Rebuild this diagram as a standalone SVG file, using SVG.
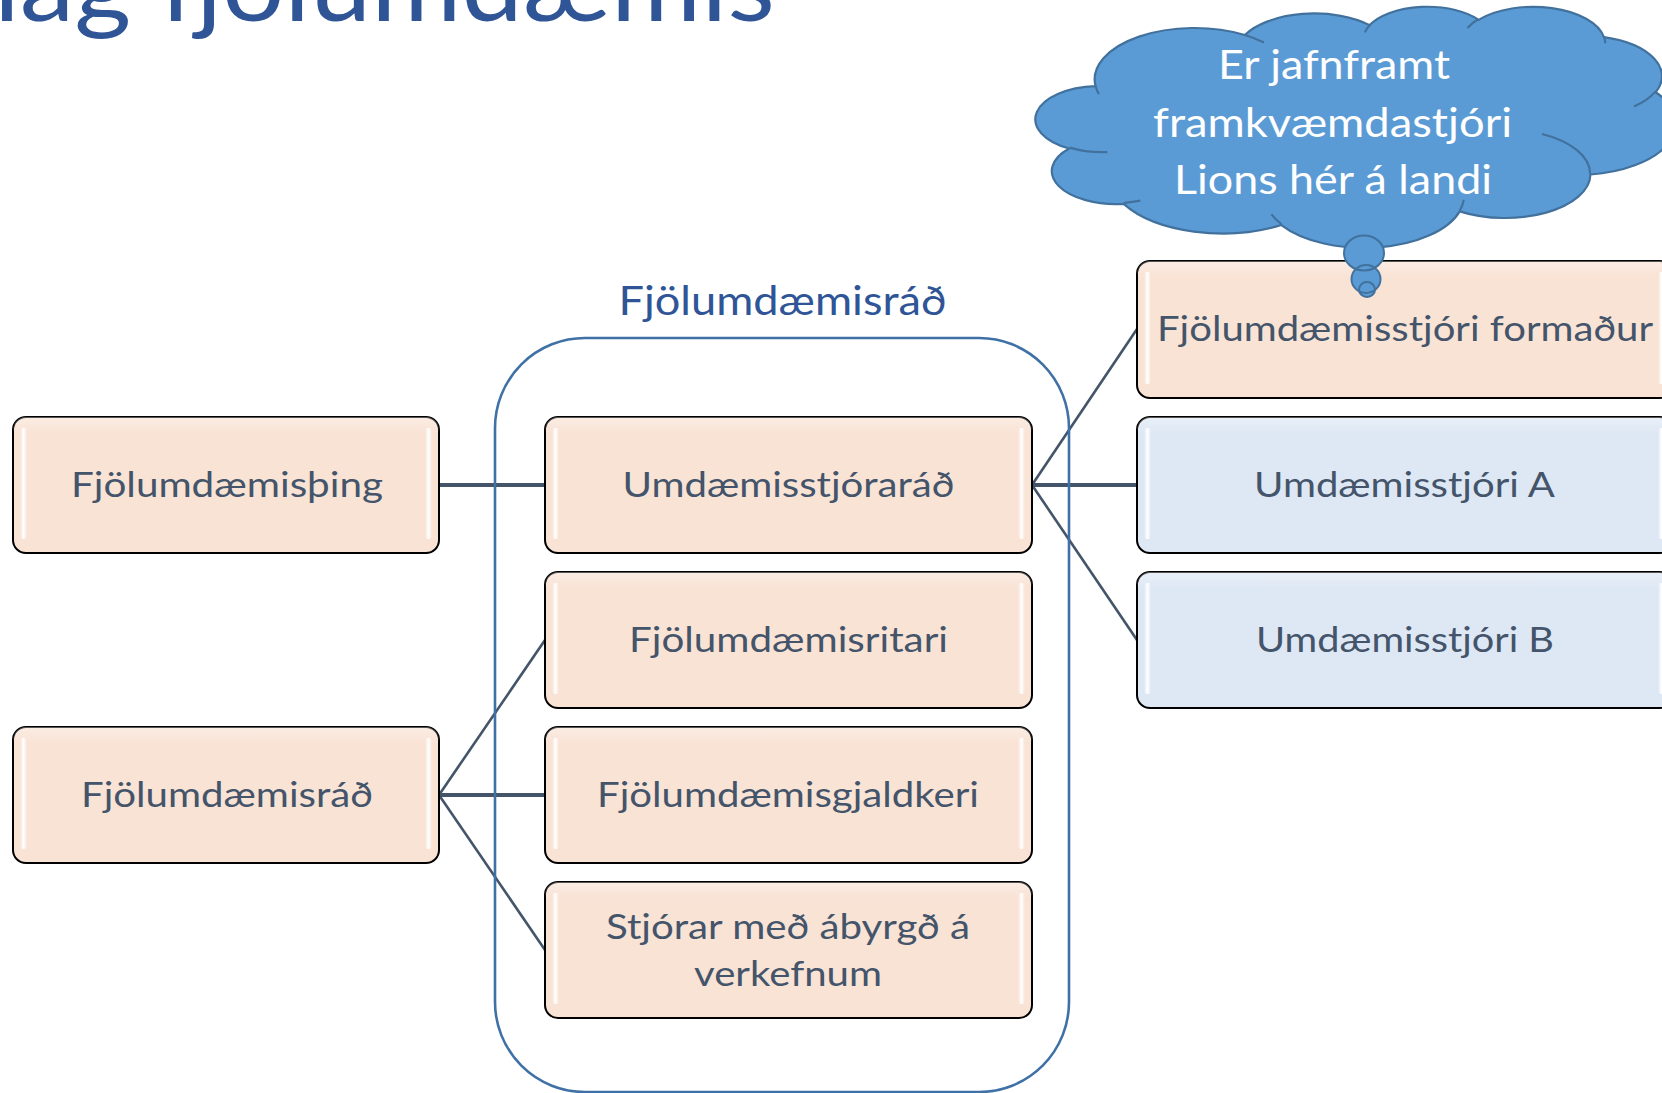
<svg xmlns="http://www.w3.org/2000/svg" width="1662" height="1093" viewBox="0 0 1662 1093">
<style>
  .t { font-family: Lato, "Open Sans", "Liberation Sans", sans-serif; fill: #44546A; font-size: 35px; text-anchor: middle; }
  .title { font-family: Lato, "Open Sans", "Liberation Sans", sans-serif; fill: #2F5597; font-size: 100px; }
  .label { font-family: Lato, "Open Sans", "Liberation Sans", sans-serif; fill: #2F5597; font-size: 40px; text-anchor: middle; }
  .ct { font-family: Lato, "Open Sans", "Liberation Sans", sans-serif; fill: #FFFFFF; font-size: 41px; text-anchor: middle; }
  .peach { fill: #F9E3D5; stroke: #000000; stroke-width: 2; }
  .blue { fill: #DEE8F4; stroke: #000000; stroke-width: 2; }
  .hl { fill: url(#gloss); }
  .conn { stroke: #445469; fill: none; stroke-linecap: butt; }
  .h { stroke-width: 4; }
  .d { stroke-width: 2.6; }
  .cloud { fill: #5B9BD5; stroke: #41719C; stroke-width: 2.2; vector-effect: non-scaling-stroke; }
  .cloudline { fill: none; stroke: #41719C; stroke-width: 2.2; vector-effect: non-scaling-stroke; }
</style>
<defs>
  <linearGradient id="gloss" x1="0" y1="0" x2="1" y2="0">
    <stop offset="0" stop-color="#FFFFFF" stop-opacity="0"/>
    <stop offset="0.5" stop-color="#FFFFFF" stop-opacity="1"/>
    <stop offset="1" stop-color="#FFFFFF" stop-opacity="0"/>
  </linearGradient>
  <linearGradient id="topsheen" x1="0" y1="0" x2="0" y2="1">
    <stop offset="0" stop-color="#FFFFFF" stop-opacity="0.35"/>
    <stop offset="0.12" stop-color="#FFFFFF" stop-opacity="0"/>
    <stop offset="1" stop-color="#FFFFFF" stop-opacity="0"/>
  </linearGradient>
</defs>

<rect width="1662" height="1093" fill="#FFFFFF"/>

<text id="title" class="title" x="-6" y="21" textLength="781" lengthAdjust="spacingAndGlyphs">lag fjölumdæmis</text>

<g id="connectors">
  <line class="conn h" x1="439" y1="485" x2="545" y2="485"/>
  <line class="conn d" x1="1032" y1="485" x2="1137" y2="329"/>
  <line class="conn h" x1="1032" y1="485" x2="1137" y2="485"/>
  <line class="conn d" x1="1032" y1="485" x2="1137" y2="640"/>
  <line class="conn d" x1="439" y1="795" x2="545" y2="640"/>
  <line class="conn h" x1="439" y1="795" x2="545" y2="795"/>
  <line class="conn d" x1="439" y1="795" x2="545" y2="950"/>
</g>

<g id="council-group">
  <rect x="495" y="338" width="574" height="754" rx="90" ry="90" fill="none" stroke="#3F71A6" stroke-width="2.6"/>
  <text class="label" x="782.5" y="315" textLength="328" lengthAdjust="spacingAndGlyphs">Fjölumdæmisráð</text>
</g>

<g id="node-thing">
  <rect class="peach" x="13" y="417" width="426" height="136" rx="13"/>
  <rect x="13" y="417" width="426" height="136" rx="13" fill="url(#topsheen)"/>
  <rect class="hl" x="20" y="428" width="7" height="111" rx="3"/>
  <rect class="hl" x="425" y="428" width="7" height="111" rx="3"/>
  <text class="t" x="227" y="497" textLength="312" lengthAdjust="spacingAndGlyphs">Fjölumdæmisþing</text>
</g>

<g id="node-rad-left">
  <rect class="peach" x="13" y="727" width="426" height="136" rx="13"/>
  <rect x="13" y="727" width="426" height="136" rx="13" fill="url(#topsheen)"/>
  <rect class="hl" x="20" y="738" width="7" height="111" rx="3"/>
  <rect class="hl" x="425" y="738" width="7" height="111" rx="3"/>
  <text class="t" x="227" y="807" textLength="292" lengthAdjust="spacingAndGlyphs">Fjölumdæmisráð</text>
</g>

<g id="node-umdstjrad">
  <rect class="peach" x="545" y="417" width="487" height="136" rx="13"/>
  <rect x="545" y="417" width="487" height="136" rx="13" fill="url(#topsheen)"/>
  <rect class="hl" x="552" y="428" width="7" height="111" rx="3"/>
  <rect class="hl" x="1018" y="428" width="7" height="111" rx="3"/>
  <text class="t" x="788.5" y="497" textLength="332" lengthAdjust="spacingAndGlyphs">Umdæmisstjóraráð</text>
</g>

<g id="node-ritari">
  <rect class="peach" x="545" y="572" width="487" height="136" rx="13"/>
  <rect x="545" y="572" width="487" height="136" rx="13" fill="url(#topsheen)"/>
  <rect class="hl" x="552" y="583" width="7" height="111" rx="3"/>
  <rect class="hl" x="1018" y="583" width="7" height="111" rx="3"/>
  <text class="t" x="788.5" y="652" textLength="319" lengthAdjust="spacingAndGlyphs">Fjölumdæmisritari</text>
</g>

<g id="node-gjaldkeri">
  <rect class="peach" x="545" y="727" width="487" height="136" rx="13"/>
  <rect x="545" y="727" width="487" height="136" rx="13" fill="url(#topsheen)"/>
  <rect class="hl" x="552" y="738" width="7" height="111" rx="3"/>
  <rect class="hl" x="1018" y="738" width="7" height="111" rx="3"/>
  <text class="t" x="788" y="807" textLength="382" lengthAdjust="spacingAndGlyphs">Fjölumdæmisgjaldkeri</text>
</g>

<g id="node-stjorar">
  <rect class="peach" x="545" y="882" width="487" height="136" rx="13"/>
  <rect x="545" y="882" width="487" height="136" rx="13" fill="url(#topsheen)"/>
  <rect class="hl" x="552" y="893" width="7" height="111" rx="3"/>
  <rect class="hl" x="1018" y="893" width="7" height="111" rx="3"/>
  <text class="t" x="788" y="939" textLength="364" lengthAdjust="spacingAndGlyphs">Stjórar með ábyrgð á</text>
  <text class="t" x="788" y="986" textLength="188" lengthAdjust="spacingAndGlyphs">verkefnum</text>
</g>

<g id="node-formadur">
  <rect class="peach" x="1137" y="261" width="536" height="137" rx="13"/>
  <rect x="1137" y="261" width="536" height="137" rx="13" fill="url(#topsheen)"/>
  <rect class="hl" x="1144" y="272" width="7" height="112" rx="3"/>
  <rect class="hl" x="1658" y="272" width="7" height="112" rx="3"/>
  <text class="t" x="1405" y="341" textLength="496" lengthAdjust="spacingAndGlyphs">Fjölumdæmisstjóri formaður</text>
</g>

<g id="node-umdA">
  <rect class="blue" x="1137" y="417" width="536" height="136" rx="13"/>
  <rect x="1137" y="417" width="536" height="136" rx="13" fill="url(#topsheen)"/>
  <rect class="hl" x="1144" y="428" width="7" height="111" rx="3"/>
  <rect class="hl" x="1658" y="428" width="7" height="111" rx="3"/>
  <text class="t" x="1404.5" y="497" textLength="301" lengthAdjust="spacingAndGlyphs">Umdæmisstjóri A</text>
</g>

<g id="node-umdB">
  <rect class="blue" x="1137" y="572" width="536" height="136" rx="13"/>
  <rect x="1137" y="572" width="536" height="136" rx="13" fill="url(#topsheen)"/>
  <rect class="hl" x="1144" y="583" width="7" height="111" rx="3"/>
  <rect class="hl" x="1658" y="583" width="7" height="111" rx="3"/>
  <text class="t" x="1405" y="652" textLength="298" lengthAdjust="spacingAndGlyphs">Umdæmisstjóri B</text>
</g>

<g id="cloud-callout">
  <g transform="translate(1038,6) scale(0.014769,0.0055787)">
    <path class="cloud" d="M 3900 14370 A 6753 9190 0 0 1 14004.8 5201.9 A 5333 7267 0 0 1 22455.9 3429.7 A 4365 5945 0 0 1 29833.3 2478.5 A 4857 6595 0 0 1 38317.7 5575 A 5333 7273 0 0 1 41818.1 15458.8 A 6775 9220 0 0 1 37402.8 30199.4 A 5785 7867 0 0 1 28554.3 36809.5 A 6752 9215 0 0 1 16479.8 39261.5 A 7720 10543 0 0 1 5803.6 35466.5 A 4360 5918 0 0 1 2112.9 25544 A 4345 5945 0 0 1 3900 14370 Z"/>
    <path class="cloudline" d="M 4693 26177 A 4345 5945 0 0 1 2159.5 25379.4 M 6928 34899 A 4360 5918 0 0 1 5818.8 35280.8 M 16478 39090 A 6752 9215 0 0 1 15809.3 37347.9 M 28827 34751 A 6752 9215 0 0 1 28560.2 36660.8 M 34129 22954 A 5785 7867 0 0 1 37380.5 30089.7 M 41798 15354 A 5333 7273 0 0 1 40349.7 18030.5 M 38324 5426 A 4857 6595 0 0 1 38400.4 6689.5 M 29078 3952 A 4857 6595 0 0 1 29820.7 2338.3 M 22141 4720 A 4365 5945 0 0 1 22500 3330.7 M 14000 5192 A 6753 9190 0 0 1 15299.9 6540.2 M 4127 15789 A 6753 9190 0 0 1 3900 14370"/>
  </g>
  <ellipse cx="1364" cy="253" rx="20" ry="17.5" fill="#5B9BD5"/>
  <ellipse cx="1366" cy="279" rx="14.5" ry="14" fill="#5B9BD5"/>
  <ellipse cx="1367" cy="289.5" rx="8" ry="7.5" fill="#5B9BD5"/>
  <ellipse cx="1364" cy="253" rx="20" ry="17.5" fill="none" stroke="#41719C" stroke-width="2"/>
  <ellipse cx="1366" cy="279" rx="14.5" ry="14" fill="none" stroke="#41719C" stroke-width="2"/>
  <ellipse cx="1367" cy="289.5" rx="8" ry="7.5" fill="none" stroke="#41719C" stroke-width="2"/>
  <text class="ct" x="1334" y="79" textLength="232" lengthAdjust="spacingAndGlyphs">Er jafnframt</text>
  <text class="ct" x="1332.5" y="137" textLength="359" lengthAdjust="spacingAndGlyphs">framkvæmdastjóri</text>
  <text class="ct" x="1333" y="194" textLength="318" lengthAdjust="spacingAndGlyphs">Lions hér á landi</text>
</g>
</svg>
